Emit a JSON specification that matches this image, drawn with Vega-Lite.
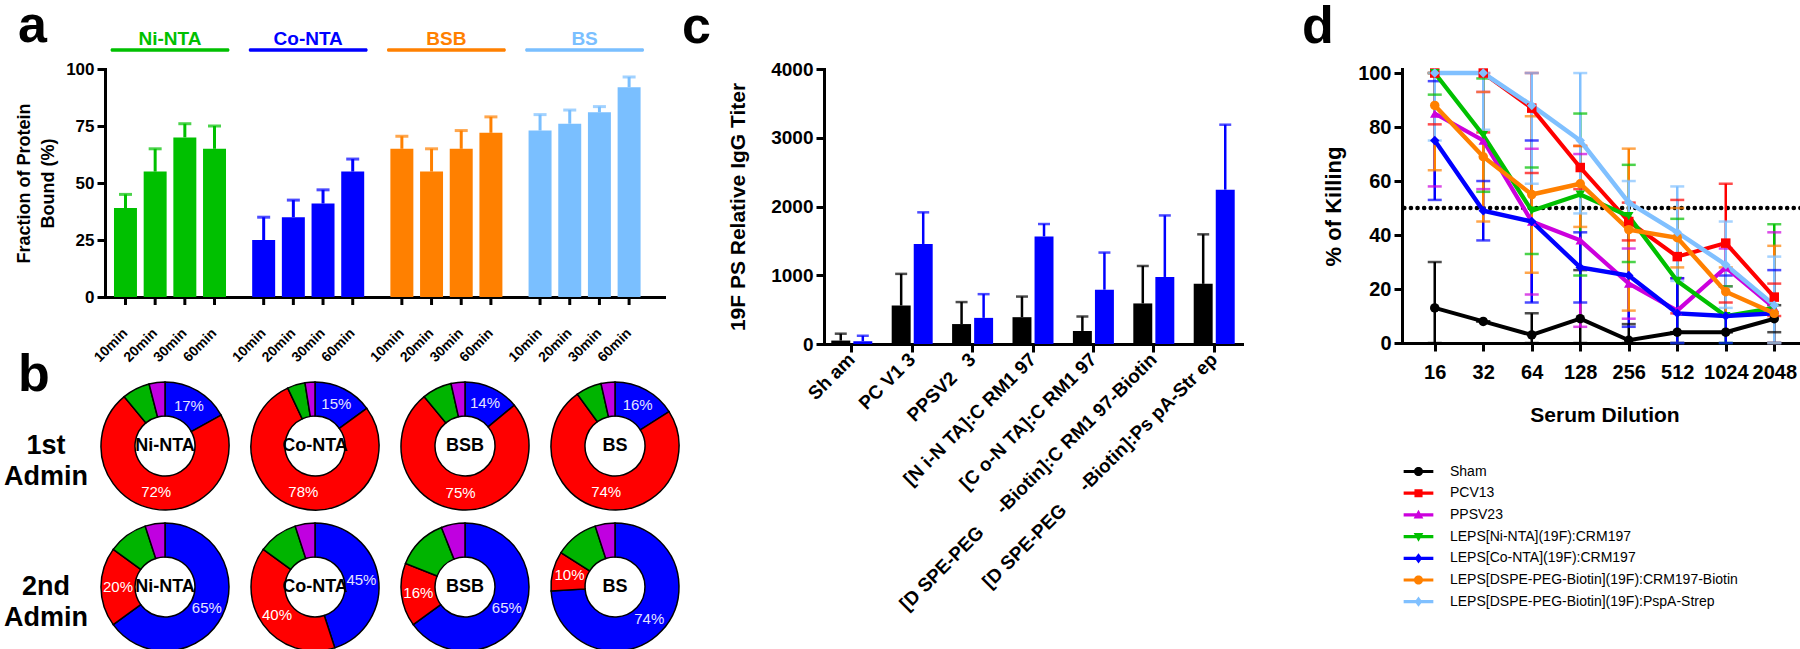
{
 "$schema": "https://vega.github.io/schema/vega-lite/v6.json",
 "background": "white",
 "padding": {"left": 4, "top": 0, "right": 0, "bottom": 0},
 "config": {
  "font": "Liberation Sans",
  "view": {"stroke": null},
  "axis": {"domainColor": "black", "domainWidth": 3, "domainCap": "square", "tickColor": "black", "tickWidth": 3, "tickSize": 8, "labelColor": "black", "labelFontWeight": "bold", "labelFont": "Liberation Sans", "titleColor": "black", "titleFont": "Liberation Sans", "titleFontWeight": "bold", "grid": false, "labelPadding": 3},
  "title": {"fontSize": 52, "fontWeight": "bold", "anchor": "start", "frame": "group", "color": "black", "baseline": "alphabetic", "offset": 0},
  "header": {"labelColor": "black"}
 },
 "datasets": {
  "bind": [
   {"g": "Ni-NTA", "t": "10min", "v": 39, "hi": 45},
   {"g": "Ni-NTA", "t": "20min", "v": 55, "hi": 65},
   {"g": "Ni-NTA", "t": "30min", "v": 70, "hi": 76},
   {"g": "Ni-NTA", "t": "60min", "v": 65, "hi": 75},
   {"g": "Co-NTA", "t": "10min", "v": 25, "hi": 35},
   {"g": "Co-NTA", "t": "20min", "v": 35, "hi": 42.5},
   {"g": "Co-NTA", "t": "30min", "v": 41, "hi": 47},
   {"g": "Co-NTA", "t": "60min", "v": 55, "hi": 60.5},
   {"g": "BSB", "t": "10min", "v": 65, "hi": 70.5},
   {"g": "BSB", "t": "20min", "v": 55, "hi": 65},
   {"g": "BSB", "t": "30min", "v": 65, "hi": 73},
   {"g": "BSB", "t": "60min", "v": 72, "hi": 79},
   {"g": "BS", "t": "10min", "v": 73, "hi": 80},
   {"g": "BS", "t": "20min", "v": 76, "hi": 82},
   {"g": "BS", "t": "30min", "v": 81, "hi": 83.5},
   {"g": "BS", "t": "60min", "v": 92, "hi": 96.5}
  ],
  "grp": [{"g": "Ni-NTA"}, {"g": "Co-NTA"}, {"g": "BSB"}, {"g": "BS"}],
  "donut": [
   {"adm": "1st Admin", "g": "Ni-NTA", "slice": "blue", "i": 1, "p": 17, "lab": "17%"},
   {"adm": "1st Admin", "g": "Ni-NTA", "slice": "red", "i": 2, "p": 72, "lab": "72%"},
   {"adm": "1st Admin", "g": "Ni-NTA", "slice": "green", "i": 3, "p": 7, "lab": ""},
   {"adm": "1st Admin", "g": "Ni-NTA", "slice": "purple", "i": 4, "p": 4, "lab": ""},
   {"adm": "1st Admin", "g": "Co-NTA", "slice": "blue", "i": 1, "p": 15, "lab": "15%"},
   {"adm": "1st Admin", "g": "Co-NTA", "slice": "red", "i": 2, "p": 78, "lab": "78%"},
   {"adm": "1st Admin", "g": "Co-NTA", "slice": "green", "i": 3, "p": 4.5, "lab": ""},
   {"adm": "1st Admin", "g": "Co-NTA", "slice": "purple", "i": 4, "p": 2.5, "lab": ""},
   {"adm": "1st Admin", "g": "BSB", "slice": "blue", "i": 1, "p": 14, "lab": "14%"},
   {"adm": "1st Admin", "g": "BSB", "slice": "red", "i": 2, "p": 75, "lab": "75%"},
   {"adm": "1st Admin", "g": "BSB", "slice": "green", "i": 3, "p": 7.5, "lab": ""},
   {"adm": "1st Admin", "g": "BSB", "slice": "purple", "i": 4, "p": 3.5, "lab": ""},
   {"adm": "1st Admin", "g": "BS", "slice": "blue", "i": 1, "p": 16, "lab": "16%"},
   {"adm": "1st Admin", "g": "BS", "slice": "red", "i": 2, "p": 74, "lab": "74%"},
   {"adm": "1st Admin", "g": "BS", "slice": "green", "i": 3, "p": 6.5, "lab": ""},
   {"adm": "1st Admin", "g": "BS", "slice": "purple", "i": 4, "p": 3.5, "lab": ""},
   {"adm": "2nd Admin", "g": "Ni-NTA", "slice": "blue", "i": 1, "p": 65, "lab": "65%"},
   {"adm": "2nd Admin", "g": "Ni-NTA", "slice": "red", "i": 2, "p": 20, "lab": "20%"},
   {"adm": "2nd Admin", "g": "Ni-NTA", "slice": "green", "i": 3, "p": 10, "lab": ""},
   {"adm": "2nd Admin", "g": "Ni-NTA", "slice": "purple", "i": 4, "p": 5, "lab": ""},
   {"adm": "2nd Admin", "g": "Co-NTA", "slice": "blue", "i": 1, "p": 45, "lab": "45%"},
   {"adm": "2nd Admin", "g": "Co-NTA", "slice": "red", "i": 2, "p": 40, "lab": "40%"},
   {"adm": "2nd Admin", "g": "Co-NTA", "slice": "green", "i": 3, "p": 10, "lab": ""},
   {"adm": "2nd Admin", "g": "Co-NTA", "slice": "purple", "i": 4, "p": 5, "lab": ""},
   {"adm": "2nd Admin", "g": "BSB", "slice": "blue", "i": 1, "p": 65, "lab": "65%"},
   {"adm": "2nd Admin", "g": "BSB", "slice": "red", "i": 2, "p": 16, "lab": "16%"},
   {"adm": "2nd Admin", "g": "BSB", "slice": "green", "i": 3, "p": 13, "lab": ""},
   {"adm": "2nd Admin", "g": "BSB", "slice": "purple", "i": 4, "p": 6, "lab": ""},
   {"adm": "2nd Admin", "g": "BS", "slice": "blue", "i": 1, "p": 74, "lab": "74%"},
   {"adm": "2nd Admin", "g": "BS", "slice": "red", "i": 2, "p": 10, "lab": "10%"},
   {"adm": "2nd Admin", "g": "BS", "slice": "green", "i": 3, "p": 11, "lab": ""},
   {"adm": "2nd Admin", "g": "BS", "slice": "purple", "i": 4, "p": 5, "lab": ""}
  ],
  "titer": [
   {"g": "Sh am", "s": "1st Admin", "v": 50, "hi": 150},
   {"g": "Sh am", "s": "2nd Admin", "v": 40, "hi": 120},
   {"g": "PC V1 3", "s": "1st Admin", "v": 560, "hi": 1020},
   {"g": "PC V1 3", "s": "2nd Admin", "v": 1455, "hi": 1915},
   {"g": "PPSV2\u00a0\u00a0 3", "s": "1st Admin", "v": 290, "hi": 610},
   {"g": "PPSV2\u00a0\u00a0 3", "s": "2nd Admin", "v": 380, "hi": 725},
   {"g": "[N i-N TA]:C RM1 97", "s": "1st Admin", "v": 390, "hi": 690},
   {"g": "[N i-N TA]:C RM1 97", "s": "2nd Admin", "v": 1565, "hi": 1745},
   {"g": "[C o-N TA]:C RM1 97", "s": "1st Admin", "v": 190, "hi": 400},
   {"g": "[C o-N TA]:C RM1 97", "s": "2nd Admin", "v": 790, "hi": 1330},
   {"g": "[D SPE-PEG\u00a0\u00a0\u00a0\u00a0 -Biotin]:C RM1 97-Biotin", "s": "1st Admin", "v": 590, "hi": 1135},
   {"g": "[D SPE-PEG\u00a0\u00a0\u00a0\u00a0 -Biotin]:C RM1 97-Biotin", "s": "2nd Admin", "v": 975, "hi": 1870},
   {"g": "[D SPE-PEG\u00a0\u00a0\u00a0\u00a0 -Biotin]:Ps pA-Str ep", "s": "1st Admin", "v": 875, "hi": 1595},
   {"g": "[D SPE-PEG\u00a0\u00a0\u00a0\u00a0 -Biotin]:Ps pA-Str ep", "s": "2nd Admin", "v": 2245, "hi": 3190}
  ],
  "kill": [
   {"s": "Sham", "dil": 16, "v": 13, "lo": 0, "hi": 30},
   {"s": "Sham", "dil": 32, "v": 8, "lo": 8, "hi": 8},
   {"s": "Sham", "dil": 64, "v": 3, "lo": 0, "hi": 11},
   {"s": "Sham", "dil": 128, "v": 9, "lo": 0, "hi": 27},
   {"s": "Sham", "dil": 256, "v": 1, "lo": 0, "hi": 7},
   {"s": "Sham", "dil": 512, "v": 4, "lo": 4, "hi": 4},
   {"s": "Sham", "dil": 1024, "v": 4, "lo": 4, "hi": 4},
   {"s": "Sham", "dil": 2048, "v": 9, "lo": 4, "hi": 14},
   {"s": "PCV13", "dil": 16, "v": 100, "lo": 81, "hi": 100},
   {"s": "PCV13", "dil": 32, "v": 100, "lo": 78, "hi": 100},
   {"s": "PCV13", "dil": 64, "v": 87, "lo": 63, "hi": 100},
   {"s": "PCV13", "dil": 128, "v": 65, "lo": 57, "hi": 73},
   {"s": "PCV13", "dil": 256, "v": 45, "lo": 38, "hi": 52},
   {"s": "PCV13", "dil": 512, "v": 32, "lo": 11, "hi": 53},
   {"s": "PCV13", "dil": 1024, "v": 37, "lo": 15, "hi": 59},
   {"s": "PCV13", "dil": 2048, "v": 17, "lo": 10, "hi": 22},
   {"s": "PPSV23", "dil": 16, "v": 85, "lo": 58, "hi": 100},
   {"s": "PPSV23", "dil": 32, "v": 75, "lo": 57, "hi": 93},
   {"s": "PPSV23", "dil": 64, "v": 45, "lo": 18, "hi": 72},
   {"s": "PPSV23", "dil": 128, "v": 38, "lo": 6, "hi": 70},
   {"s": "PPSV23", "dil": 256, "v": 22, "lo": 9, "hi": 35},
   {"s": "PPSV23", "dil": 512, "v": 12, "lo": 0, "hi": 24},
   {"s": "PPSV23", "dil": 1024, "v": 28, "lo": 21, "hi": 35},
   {"s": "PPSV23", "dil": 2048, "v": 13, "lo": 0, "hi": 41},
   {"s": "LEPS[Ni-NTA](19F):CRM197", "dil": 16, "v": 100, "lo": 92, "hi": 100},
   {"s": "LEPS[Ni-NTA](19F):CRM197", "dil": 32, "v": 77, "lo": 56, "hi": 98},
   {"s": "LEPS[Ni-NTA](19F):CRM197", "dil": 64, "v": 49, "lo": 33, "hi": 65},
   {"s": "LEPS[Ni-NTA](19F):CRM197", "dil": 128, "v": 55, "lo": 25, "hi": 85},
   {"s": "LEPS[Ni-NTA](19F):CRM197", "dil": 256, "v": 47, "lo": 30, "hi": 66},
   {"s": "LEPS[Ni-NTA](19F):CRM197", "dil": 512, "v": 23, "lo": 0, "hi": 46},
   {"s": "LEPS[Ni-NTA](19F):CRM197", "dil": 1024, "v": 10, "lo": 0, "hi": 21},
   {"s": "LEPS[Ni-NTA](19F):CRM197", "dil": 2048, "v": 13, "lo": 0, "hi": 44},
   {"s": "LEPS[Co-NTA](19F):CRM197", "dil": 16, "v": 75, "lo": 53, "hi": 97},
   {"s": "LEPS[Co-NTA](19F):CRM197", "dil": 32, "v": 49, "lo": 38, "hi": 60},
   {"s": "LEPS[Co-NTA](19F):CRM197", "dil": 64, "v": 45, "lo": 15, "hi": 75},
   {"s": "LEPS[Co-NTA](19F):CRM197", "dil": 128, "v": 28, "lo": 15, "hi": 41},
   {"s": "LEPS[Co-NTA](19F):CRM197", "dil": 256, "v": 25, "lo": 6, "hi": 44},
   {"s": "LEPS[Co-NTA](19F):CRM197", "dil": 512, "v": 11, "lo": 0, "hi": 24},
   {"s": "LEPS[Co-NTA](19F):CRM197", "dil": 1024, "v": 10, "lo": 0, "hi": 25},
   {"s": "LEPS[Co-NTA](19F):CRM197", "dil": 2048, "v": 11, "lo": 0, "hi": 27},
   {"s": "LEPS[DSPE-PEG-Biotin](19F):CRM197-Biotin", "dil": 16, "v": 88, "lo": 64, "hi": 100},
   {"s": "LEPS[DSPE-PEG-Biotin](19F):CRM197-Biotin", "dil": 32, "v": 69, "lo": 45, "hi": 93},
   {"s": "LEPS[DSPE-PEG-Biotin](19F):CRM197-Biotin", "dil": 64, "v": 55, "lo": 26, "hi": 84},
   {"s": "LEPS[DSPE-PEG-Biotin](19F):CRM197-Biotin", "dil": 128, "v": 59, "lo": 43, "hi": 73},
   {"s": "LEPS[DSPE-PEG-Biotin](19F):CRM197-Biotin", "dil": 256, "v": 42, "lo": 12, "hi": 72},
   {"s": "LEPS[DSPE-PEG-Biotin](19F):CRM197-Biotin", "dil": 512, "v": 39, "lo": 28, "hi": 50},
   {"s": "LEPS[DSPE-PEG-Biotin](19F):CRM197-Biotin", "dil": 1024, "v": 19, "lo": 10, "hi": 28},
   {"s": "LEPS[DSPE-PEG-Biotin](19F):CRM197-Biotin", "dil": 2048, "v": 11, "lo": 0, "hi": 36},
   {"s": "LEPS[DSPE-PEG-Biotin](19F):PspA-Strep", "dil": 16, "v": 100, "lo": 75, "hi": 100},
   {"s": "LEPS[DSPE-PEG-Biotin](19F):PspA-Strep", "dil": 32, "v": 100, "lo": 79, "hi": 100},
   {"s": "LEPS[DSPE-PEG-Biotin](19F):PspA-Strep", "dil": 64, "v": 88, "lo": 59, "hi": 100},
   {"s": "LEPS[DSPE-PEG-Biotin](19F):PspA-Strep", "dil": 128, "v": 75, "lo": 48, "hi": 100},
   {"s": "LEPS[DSPE-PEG-Biotin](19F):PspA-Strep", "dil": 256, "v": 52, "lo": 44, "hi": 60},
   {"s": "LEPS[DSPE-PEG-Biotin](19F):PspA-Strep", "dil": 512, "v": 41, "lo": 23, "hi": 58},
   {"s": "LEPS[DSPE-PEG-Biotin](19F):PspA-Strep", "dil": 1024, "v": 29, "lo": 13, "hi": 45},
   {"s": "LEPS[DSPE-PEG-Biotin](19F):PspA-Strep", "dil": 2048, "v": 14, "lo": 0, "hi": 32}
  ],
  "ref": [{"y": 50}]
 },
 "bounds": "flush",
 "columns": 3,
 "spacing": {"row": 37, "column": 160},
 "resolve": {"scale": {"color": "independent", "xOffset": "independent", "shape": "independent", "strokeWidth": "independent", "theta": "independent"}, "legend": {"color": "independent", "shape": "independent"}},
 "concat": [
  {
   "width": 559,
   "height": 228,
   "title": {"text": "a", "dx": -87, "dy": 27},
   "encoding": {
    "x": {"field": "g", "type": "nominal", "sort": ["Ni-NTA", "Co-NTA", "BSB", "BS"], "scale": {"paddingInner": 0.14, "paddingOuter": 0.0925, "align": 0.218}, "axis": {"labels": false, "ticks": false, "title": null}}
   },
   "layer": [
    {
     "data": {"name": "bind"},
     "mark": {"type": "bar"},
     "encoding": {
      "xOffset": {"field": "t", "type": "nominal", "sort": ["10min", "20min", "30min", "60min"], "scale": {"paddingInner": 0.226, "paddingOuter": 0.115}},
      "y": {"field": "v", "type": "quantitative", "scale": {"domain": [0, 100], "nice": false}, "axis": {"values": [0, 25, 50, 75, 100], "title": ["Fraction of Protein", "Bound (%)"], "titleFontSize": 18, "titleLineHeight": 24, "labelFontSize": 17, "titlePadding": 8}},
      "color": {"field": "g", "type": "nominal", "scale": {"domain": ["Ni-NTA", "Co-NTA", "BSB", "BS"], "range": ["#00c000", "#0000ff", "#ff8000", "#7abfff"]}, "legend": null}
     }
    },
    {
     "data": {"name": "bind"},
     "mark": {"type": "rule", "strokeWidth": 3},
     "encoding": {
      "xOffset": {"field": "t", "type": "nominal", "sort": ["10min", "20min", "30min", "60min"]},
      "y": {"field": "v", "type": "quantitative"},
      "y2": {"field": "hi"},
      "color": {"field": "g", "type": "nominal", "legend": null}
     }
    },
    {
     "data": {"name": "bind"},
     "mark": {"type": "tick", "orient": "horizontal", "thickness": 3, "size": 13},
     "encoding": {
      "xOffset": {"field": "t", "type": "nominal", "sort": ["10min", "20min", "30min", "60min"]},
      "y": {"field": "hi", "type": "quantitative"},
      "color": {"field": "g", "type": "nominal", "legend": null}
     }
    },
    {
     "data": {"name": "bind"},
     "mark": {"type": "rule", "strokeWidth": 3, "color": "black"},
     "encoding": {
      "xOffset": {"field": "t", "type": "nominal", "sort": ["10min", "20min", "30min", "60min"]},
      "y": {"datum": 0},
      "y2": {"datum": -3.5}
     }
    },
    {
     "data": {"name": "bind"},
     "mark": {"type": "text", "angle": 315, "align": "right", "baseline": "middle", "fontSize": 14, "fontWeight": "bold", "color": "black"},
     "encoding": {
      "xOffset": {"field": "t", "type": "nominal", "sort": ["10min", "20min", "30min", "60min"]},
      "y": {"datum": -15},
      "text": {"field": "t"}
     }
    },
    {
     "data": {"name": "grp"},
     "mark": {"type": "bar", "cornerRadius": 1.5},
     "encoding": {
      "y": {"datum": 107.6},
      "y2": {"datum": 109.1},
      "color": {"field": "g", "type": "nominal", "legend": null}
     }
    },
    {
     "data": {"name": "grp"},
     "mark": {"type": "text", "fontSize": 19, "fontWeight": "bold", "baseline": "alphabetic"},
     "encoding": {
      "y": {"datum": 110.5},
      "text": {"field": "g"},
      "color": {"field": "g", "type": "nominal", "legend": null}
     }
    }
   ]
  },
  {
   "width": 418,
   "height": 275,
   "title": {"text": "c", "dx": -142, "dy": -2},
   "data": {"name": "titer"},
   "encoding": {
    "x": {"field": "g", "type": "nominal", "sort": null, "scale": {"paddingInner": 0.27, "paddingOuter": 0.095}, "axis": {"title": null, "labelAngle": -45, "labelAlign": "right", "labelBaseline": "middle", "labelFontSize": 19, "labelLimit": 600, "labelPadding": 4}},
    "xOffset": {"field": "s", "type": "nominal", "sort": ["1st Admin", "2nd Admin"], "scale": {"paddingInner": 0.14, "paddingOuter": 0.07}},
    "color": {"field": "s", "type": "nominal", "scale": {"domain": ["1st Admin", "2nd Admin"], "range": ["#000000", "#0000ff"]}, "legend": null}
   },
   "layer": [
    {
     "mark": {"type": "bar"},
     "encoding": {
      "y": {"field": "v", "type": "quantitative", "scale": {"domain": [0, 4000], "nice": false}, "axis": {"values": [0, 1000, 2000, 3000, 4000], "format": "d", "title": "19F PS Relative IgG Titer", "titleFontSize": 21, "labelFontSize": 19, "titlePadding": 22}}
     }
    },
    {
     "mark": {"type": "rule", "strokeWidth": 2.5},
     "encoding": {"y": {"field": "v", "type": "quantitative"}, "y2": {"field": "hi"}}
    },
    {
     "mark": {"type": "tick", "orient": "horizontal", "thickness": 2.5, "size": 12},
     "encoding": {"y": {"field": "hi", "type": "quantitative"}}
    }
   ]
  },
  {
   "width": 405,
   "height": 274,
   "title": {"text": "d", "dx": -100, "dy": -5},
   "resolve": {"scale": {"shape": "independent", "color": "independent", "strokeWidth": "independent"}},
   "encoding": {
    "x": {"field": "dil", "type": "ordinal", "scale": {"type": "point", "padding": 0.675, "align": 0.5}, "axis": {"title": "Serum Dilution", "titleFontSize": 21, "titlePadding": 22, "labelAngle": 0, "labelFontSize": 20, "labelPadding": 11}}
   },
   "layer": [
    {
     "data": {"name": "ref"},
     "mark": {"type": "rule", "strokeDash": [0.1, 6.5], "strokeCap": "round", "strokeWidth": 4.5, "color": "black"},
     "encoding": {
      "x": null,
      "y": {"field": "y", "type": "quantitative", "scale": {"domain": [0, 101.5], "nice": false}, "axis": {"values": [0, 20, 40, 60, 80, 100], "title": "% of Killing", "titleFontSize": 22, "labelFontSize": 20, "titlePadding": 12}}
     }
    },
    {
     "data": {"name": "kill"},
     "mark": {"type": "rule", "strokeWidth": 2.5},
     "encoding": {
      "y": {"field": "lo", "type": "quantitative"},
      "y2": {"field": "hi"},
      "color": {"field": "s", "type": "nominal", "scale": {"domain": ["Sham", "PCV13", "PPSV23", "LEPS[Ni-NTA](19F):CRM197", "LEPS[Co-NTA](19F):CRM197", "LEPS[DSPE-PEG-Biotin](19F):CRM197-Biotin", "LEPS[DSPE-PEG-Biotin](19F):PspA-Strep"], "range": ["#000000", "#ff0000", "#cc00dd", "#00c000", "#0000ff", "#ff8000", "#80c0ff"]}, "legend": null}
     }
    },
    {
     "data": {"name": "kill"},
     "mark": {"type": "tick", "orient": "horizontal", "thickness": 2.5, "size": 14},
     "encoding": {
      "y": {"field": "lo", "type": "quantitative"},
      "color": {"field": "s", "type": "nominal", "scale": {"domain": ["Sham", "PCV13", "PPSV23", "LEPS[Ni-NTA](19F):CRM197", "LEPS[Co-NTA](19F):CRM197", "LEPS[DSPE-PEG-Biotin](19F):CRM197-Biotin", "LEPS[DSPE-PEG-Biotin](19F):PspA-Strep"], "range": ["#000000", "#ff0000", "#cc00dd", "#00c000", "#0000ff", "#ff8000", "#80c0ff"]}, "legend": null}
     }
    },
    {
     "data": {"name": "kill"},
     "mark": {"type": "tick", "orient": "horizontal", "thickness": 2.5, "size": 14},
     "encoding": {
      "y": {"field": "hi", "type": "quantitative"},
      "color": {"field": "s", "type": "nominal", "scale": {"domain": ["Sham", "PCV13", "PPSV23", "LEPS[Ni-NTA](19F):CRM197", "LEPS[Co-NTA](19F):CRM197", "LEPS[DSPE-PEG-Biotin](19F):CRM197-Biotin", "LEPS[DSPE-PEG-Biotin](19F):PspA-Strep"], "range": ["#000000", "#ff0000", "#cc00dd", "#00c000", "#0000ff", "#ff8000", "#80c0ff"]}, "legend": null}
     }
    },
    {
     "data": {"name": "kill"},
     "mark": {"type": "line"},
     "encoding": {
      "y": {"field": "v", "type": "quantitative"},
      "color": {"field": "s", "type": "nominal", "scale": {"domain": ["Sham", "PCV13", "PPSV23", "LEPS[Ni-NTA](19F):CRM197", "LEPS[Co-NTA](19F):CRM197", "LEPS[DSPE-PEG-Biotin](19F):CRM197-Biotin", "LEPS[DSPE-PEG-Biotin](19F):PspA-Strep"], "range": ["#000000", "#ff0000", "#cc00dd", "#00c000", "#0000ff", "#ff8000", "#80c0ff"]}, "legend": null},
      "strokeWidth": {"field": "s", "type": "nominal", "scale": {"domain": ["Sham", "PCV13", "PPSV23", "LEPS[Ni-NTA](19F):CRM197", "LEPS[Co-NTA](19F):CRM197", "LEPS[DSPE-PEG-Biotin](19F):CRM197-Biotin", "LEPS[DSPE-PEG-Biotin](19F):PspA-Strep"], "range": [4, 4.5, 2, 2, 2.5, 2, 2.5]}, "legend": null}
     }
    },
    {
     "data": {"name": "kill"},
     "mark": {"type": "point", "filled": true, "size": 90, "opacity": 1},
     "encoding": {
      "y": {"field": "v", "type": "quantitative"},
      "color": {"field": "s", "type": "nominal", "scale": {"domain": ["Sham", "PCV13", "PPSV23", "LEPS[Ni-NTA](19F):CRM197", "LEPS[Co-NTA](19F):CRM197", "LEPS[DSPE-PEG-Biotin](19F):CRM197-Biotin", "LEPS[DSPE-PEG-Biotin](19F):PspA-Strep"], "range": ["#000000", "#ff0000", "#cc00dd", "#00c000", "#0000ff", "#ff8000", "#80c0ff"]}, "legend": null},
      "shape": {"field": "s", "type": "nominal", "scale": {"domain": ["Sham", "PCV13", "PPSV23", "LEPS[Ni-NTA](19F):CRM197", "LEPS[Co-NTA](19F):CRM197", "LEPS[DSPE-PEG-Biotin](19F):CRM197-Biotin", "LEPS[DSPE-PEG-Biotin](19F):PspA-Strep"], "range": ["circle", "square", "triangle-up", "triangle-down", "diamond", "circle", "diamond"]}, "legend": null}
     }
    },
    {
     "data": {"name": "kill"},
     "mark": {"type": "point", "filled": true, "opacity": 0, "size": 729},
     "encoding": {
      "y": {"field": "v", "type": "quantitative"},
      "color": {"field": "s", "type": "nominal", "scale": {"domain": ["Sham", "PCV13", "PPSV23", "LEPS[Ni-NTA](19F):CRM197", "LEPS[Co-NTA](19F):CRM197", "LEPS[DSPE-PEG-Biotin](19F):CRM197-Biotin", "LEPS[DSPE-PEG-Biotin](19F):PspA-Strep"], "range": ["#000000", "#ff0000", "#cc00dd", "#00c000", "#0000ff", "#ff8000", "#80c0ff"]},
       "legend": {"title": null, "orient": "none", "legendX": 3, "legendY": 389, "symbolSize": 729, "symbolStrokeWidth": 0, "symbolOpacity": 1, "labelFontSize": 14, "labelFont": "Liberation Sans", "labelColor": "black", "labelLimit": 500, "rowPadding": 0.7, "labelOffset": 18, "padding": 0}},
      "shape": {"field": "s", "type": "nominal", "scale": {"domain": ["Sham", "PCV13", "PPSV23", "LEPS[Ni-NTA](19F):CRM197", "LEPS[Co-NTA](19F):CRM197", "LEPS[DSPE-PEG-Biotin](19F):CRM197-Biotin", "LEPS[DSPE-PEG-Biotin](19F):PspA-Strep"], "range": [
        "M-1.1,-0.12H1.1V0.12H-1.1Z M0.34,0A0.34,0.34,0,1,1,-0.34,0A0.34,0.34,0,1,1,0.34,0Z",
        "M-1.1,-0.12H1.1V0.12H-1.1Z M-0.3,-0.3H0.3V0.3H-0.3Z",
        "M-1.1,-0.12H1.1V0.12H-1.1Z M0,-0.38L0.36,0.26H-0.36Z",
        "M-1.1,-0.12H1.1V0.12H-1.1Z M0,0.38L-0.36,-0.26H0.36Z",
        "M-1.1,-0.12H1.1V0.12H-1.1Z M0,-0.38L0.28,0L0,0.38L-0.28,0Z",
        "M-1.1,-0.12H1.1V0.12H-1.1Z M0.34,0A0.34,0.34,0,1,1,-0.34,0A0.34,0.34,0,1,1,0.34,0Z",
        "M-1.1,-0.12H1.1V0.12H-1.1Z M0,-0.38L0.28,0L0,0.38L-0.28,0Z"
       ]},
       "legend": {"title": null, "orient": "none", "legendX": 3, "legendY": 389, "symbolSize": 729, "symbolStrokeWidth": 0, "symbolOpacity": 1, "labelFontSize": 14, "labelFont": "Liberation Sans", "labelColor": "black", "labelLimit": 500, "rowPadding": 0.7, "labelOffset": 18, "padding": 0}}
     }
    }
   ]
  },
  {
   "data": {"name": "donut"},
   "title": {"text": "b", "dx": -87, "dy": 27},
   "spacing": {"row": 7, "column": 16},
   "facet": {
    "row": {"field": "adm", "type": "nominal", "header": {"title": null, "labelOrient": "left", "labelAngle": 0, "labelAlign": "center", "labelPadding": -32, "labelFontSize": 27, "labelFontWeight": "bold", "labelFont": "Liberation Sans", "labelExpr": "split(datum.value, ' ')", "labelLineHeight": 31, "labelBaseline": "middle"}},
    "column": {"field": "g", "type": "nominal", "sort": ["Ni-NTA", "Co-NTA", "BSB", "BS"], "header": {"labels": false, "title": null}}
   },
   "spec": {
    "width": 120,
    "height": 130,
    "encoding": {
     "theta": {"field": "p", "type": "quantitative", "stack": true},
     "order": {"field": "i", "type": "quantitative"}
    },
    "layer": [
     {
      "mark": {"type": "arc", "innerRadius": 30, "outerRadius": 64, "stroke": "black", "strokeWidth": 1.5},
      "encoding": {
       "color": {"field": "slice", "type": "nominal", "scale": {"domain": ["blue", "red", "green", "purple"], "range": ["#0000ff", "#ff0000", "#00b400", "#c000e0"]}, "legend": null}
      }
     },
     {
      "mark": {"type": "text", "radius": 47, "fontSize": 15, "font": "Liberation Sans", "baseline": "middle"},
      "encoding": {
       "text": {"field": "lab"},
       "fill": {"condition": {"test": "datum.slice == 'blue'", "value": "#e4e4ff"}, "value": "white"}
      }
     },
     {
      "transform": [{"filter": "datum.i == 1"}],
      "mark": {"type": "text", "fontSize": 18, "fontWeight": "bold", "color": "black", "baseline": "middle"},
      "encoding": {
       "theta": null,
       "order": null,
       "text": {"field": "g"}
      }
     }
    ]
   }
  }
 ]
}
